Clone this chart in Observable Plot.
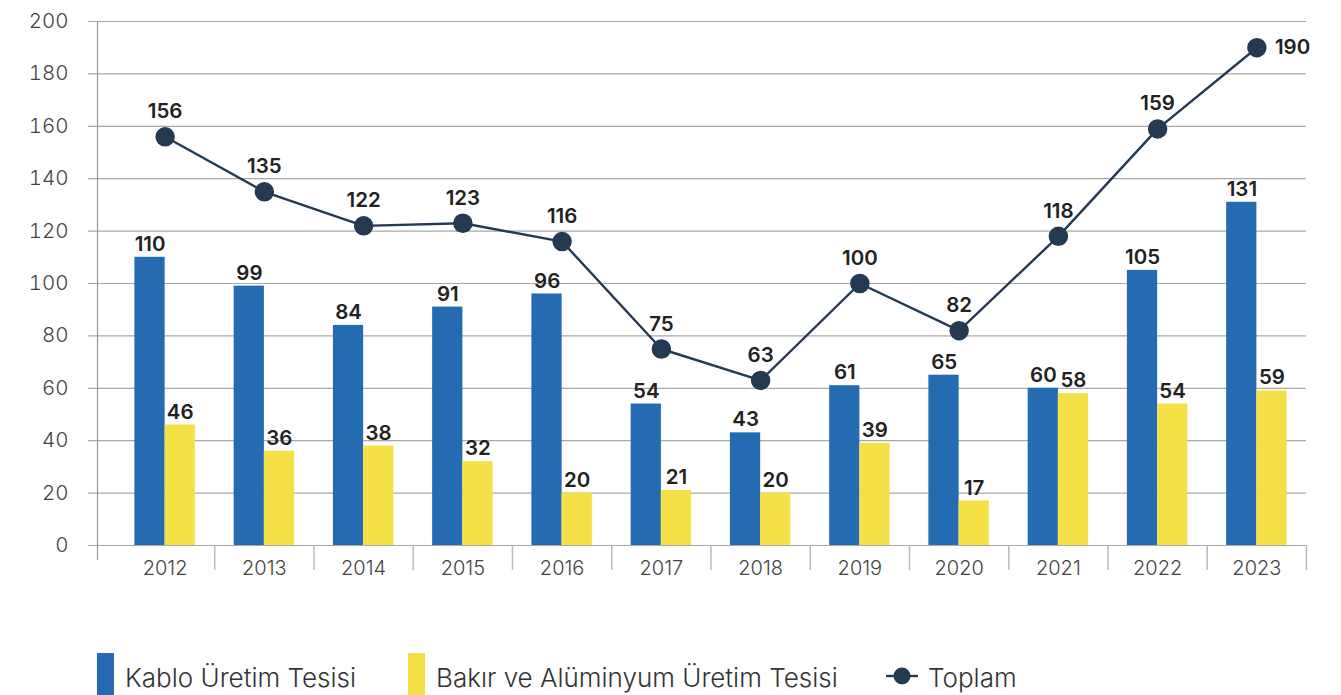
<!DOCTYPE html>
<html>
<head>
<meta charset="utf-8">
<script src="https://cdn.jsdelivr.net/npm/d3@7"></script>
<script src="https://cdn.jsdelivr.net/npm/@observablehq/plot@0.6"></script>
<style>
  html, body { margin: 0; padding: 0; background: #fff; }
  #chart { width: 1341px; }
  #legend { display: block; }
  #legend text { font-family: Inter, "Noto Sans", sans-serif; font-weight: 300; font-size: 26px; fill: #333; }
</style>
</head>
<body>
<div id="chart"></div>
<svg id="legend" width="1341" height="95"></svg>
<script>
const years = ["2012","2013","2014","2015","2016","2017","2018","2019","2020","2021","2022","2023"];
const kablo = [110, 99, 84, 91, 96, 54, 43, 61, 65, 60, 105, 131];
const bakir = [46, 36, 38, 32, 20, 21, 20, 39, 17, 58, 54, 59];
const toplam = [156, 135, 122, 123, 116, 75, 63, 100, 82, 118, 159, 190];
const yTicks = [0, 20, 40, 60, 80, 100, 120, 140, 160, 180, 200];
const seriesNames = ["Kablo Üretim Tesisi", "Bakır ve Alüminyum Üretim Tesisi", "Toplam"];

const BLUE = "#246bb2", YELLOW = "#f5e147", NAVY = "#243a52";

const rowsK = years.map((y, i) => ({year: y, value: kablo[i]}));
const rowsB = years.map((y, i) => ({year: y, value: bakir[i]}));
const rowsT = years.map((y, i) => ({year: y, value: toplam[i]}));

const chart = Plot.plot({
  width: 1341,
  height: 600,
  marginLeft: 88,
  marginRight: 35,
  marginTop: 21,
  marginBottom: 55,
  style: {fontFamily: "Inter, 'Noto Sans', sans-serif", background: "#fff", overflow: "visible"},
  x: {type: "band", domain: years, padding: 0, insetLeft: 27, round: false},
  y: {domain: [0, 200], ticks: yTicks},
  marks: [
    Plot.ruleY(yTicks, {stroke: "#a8a8a8", strokeWidth: 1.2}),
    // y axis line
    Plot.ruleX(["2012"], {x: d => d, dx: -67.6, y1: -5.7, y2: 200, stroke: "#999", strokeWidth: 1.2}),
    // band separators
    Plot.ruleX(years, {x: d => d, dx: 49.6, y1: 0, y2: -9.5, stroke: "#bbb", strokeWidth: 1.5}),
    Plot.barY(rowsK, {x: "year", y: "value", fill: BLUE, insetLeft: 19.4, insetRight: 49.6}),
    Plot.barY(rowsB, {x: "year", y: "value", fill: YELLOW, insetLeft: 49.6, insetRight: 19.4}),
    Plot.line(rowsT, {x: "year", y: "value", stroke: NAVY, strokeWidth: 2.4}),
    Plot.dot(rowsT, {x: "year", y: "value", r: 9, fill: NAVY, stroke: NAVY}),
    Plot.text(rowsK, {x: "year", y: "value", text: d => String(d.value), dx: -15, dy: -13, fontSize: 20.5, fontWeight: 600, fill: "#222"}),
    Plot.text(rowsB, {x: "year", y: "value", text: d => String(d.value), dx: 15, dy: -13, fontSize: 20.5, fontWeight: 600, fill: "#222"}),
    Plot.text(rowsT.slice(0, -1), {x: "year", y: "value", text: d => String(d.value), dy: -25, fontSize: 20.5, fontWeight: 600, fill: "#222"}),
    Plot.text(rowsT.slice(-1), {x: "year", y: "value", text: d => String(d.value), dx: 18, textAnchor: "start", fontSize: 20.5, fontWeight: 600, fill: "#222"}),
    Plot.axisY({ticks: yTicks, tickSize: 0, tickPadding: 20, label: null, fontSize: 20.5, fill: "#444", fontWeight: 300}),
    Plot.axisX({tickSize: 0, tickPadding: 15, label: null, fontSize: 20, fill: "#444", fontWeight: 300})
  ]
});
document.getElementById("chart").appendChild(chart);

// legend
const lg = d3.select("#legend");
const items = [
  {x: 97, type: "rect", color: BLUE, name: seriesNames[0], tx: 125},
  {x: 408, type: "rect", color: YELLOW, name: seriesNames[1], tx: 436},
  {x: 886, type: "line", color: NAVY, name: seriesNames[2], tx: 928}
];
for (const it of items) {
  if (it.type === "rect") {
    lg.append("rect").attr("x", it.x).attr("y", 53).attr("width", 17).attr("height", 42).attr("fill", it.color);
  } else {
    lg.append("line").attr("x1", it.x).attr("x2", it.x + 32).attr("y1", 76).attr("y2", 76).attr("stroke", it.color).attr("stroke-width", 2.4);
    lg.append("circle").attr("cx", it.x + 16).attr("cy", 76).attr("r", 8.5).attr("fill", it.color);
  }
  lg.append("text").attr("x", it.tx).attr("y", 87).text(it.name);
}
</script>
</body>
</html>
